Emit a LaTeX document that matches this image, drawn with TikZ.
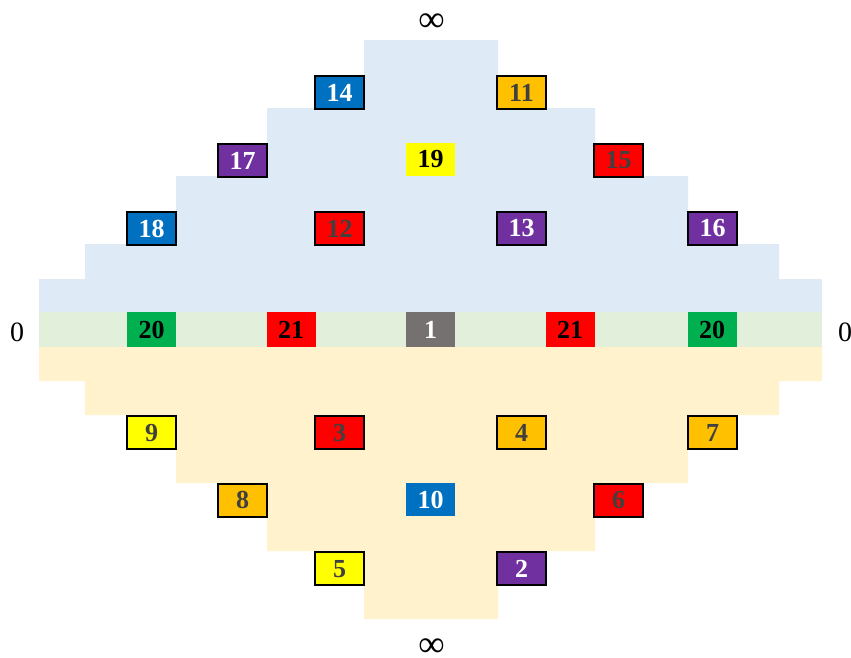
\documentclass[tikz,border=0pt]{standalone}
\usepackage{fontspec}
\setmainfont{Liberation Serif}
\definecolor{regblue}{HTML}{DEEAF6}
\definecolor{reggreen}{HTML}{E2EFDA}
\definecolor{regyellow}{HTML}{FFF2CC}
\definecolor{cblue}{HTML}{0070C0}
\definecolor{cpurple}{HTML}{7030A0}
\definecolor{corange}{HTML}{FFC000}
\definecolor{cred}{HTML}{FF0000}
\definecolor{cyellow}{HTML}{FFFF00}
\definecolor{cgreen}{HTML}{00B050}
\definecolor{cgray}{HTML}{767171}
\definecolor{tdark}{HTML}{404040}
\tikzset{
  numbox/.style={draw=black, line width=2pt, minimum width=49pt, minimum height=33.5pt, inner sep=0pt,
    font=\fontsize{26}{26}\selectfont\bfseries},
  plainbox/.style={minimum width=49pt, minimum height=35pt, inner sep=0pt,
    font=\fontsize{26}{26}\selectfont\bfseries},
  axislbl/.style={inner sep=0pt, font=\fontsize{28}{28}\selectfont},
  inflbl/.style={inner sep=0pt, anchor=base, font=\fontsize{37}{37}\selectfont},
}
\begin{document}
\begin{tikzpicture}[x=1pt,y=-1pt]
\useasboundingbox (0,0) rectangle (851,657);
% regions
\fill[regblue] (364,40) -- (498,40) -- (498,108) -- (595,108) -- (595,176) -- (688,176) -- (688,244) -- (779,244) -- (779,279) -- (822,279) -- (822,312) -- (39,312) -- (39,279) -- (85,279) -- (85,244) -- (176,244) -- (176,176) -- (267,176) -- (267,108) -- (364,108) -- cycle;
\fill[reggreen] (39,312) rectangle (822,347);
\fill[regyellow] (39,347) -- (822,347) -- (822,381) -- (779,381) -- (779,415) -- (688,415) -- (688,483) -- (595,483) -- (595,551) -- (498,551) -- (498,619) -- (364,619) -- (364,551) -- (267,551) -- (267,483) -- (176,483) -- (176,415) -- (85,415) -- (85,381) -- (39,381) -- cycle;
% labels
\node[inflbl] (inftop) at (431.5,31) {∞};
\node[inflbl] (infbot) at (431.5,656.5) {∞};
\node[axislbl] (zl) at (17,332) {0};
\node[axislbl] (zr) at (845,332) {0};
% upper boxes
\node[numbox, fill=cblue, text=white] (b14) at (339.5,92.5) {14};
\node[numbox, fill=corange, text=tdark] (b11) at (521.5,92.5) {11};
\node[numbox, fill=cpurple, text=white] (b17) at (242.5,160.5) {17};
\node[plainbox, fill=cyellow, text=black, minimum height=32.5pt] (b19) at (430.5,159.5) {19};
\node[numbox, fill=cred, text=tdark] (b15) at (618.5,160.5) {15};
\node[numbox, fill=cblue, text=white] (b18) at (151.7,228.5) {18};
\node[numbox, fill=cred, text=tdark] (b12) at (339.5,228.5) {12};
\node[numbox, fill=cpurple, text=white] (b13) at (521.5,228.5) {13};
\node[numbox, fill=cpurple, text=white] (b16) at (712.5,228.5) {16};
% middle row
\node[plainbox, fill=cgreen, text=black] (b20l) at (151.5,329.5) {20};
\node[plainbox, fill=cred, text=black] (b21l) at (291,329.5) {21};
\node[plainbox, fill=cgray, text=white] (b1) at (430.5,329.5) {1};
\node[plainbox, fill=cred, text=black] (b21r) at (570,329.5) {21};
\node[plainbox, fill=cgreen, text=black] (b20r) at (712,329.5) {20};
% lower boxes
\node[numbox, fill=cyellow, text=tdark] (b9) at (151.7,432.7) {9};
\node[numbox, fill=cred, text=tdark] (b3) at (339.5,432.7) {3};
\node[numbox, fill=corange, text=tdark] (b4) at (521.5,432.7) {4};
\node[numbox, fill=corange, text=tdark] (b7) at (712.5,432.7) {7};
\node[numbox, fill=corange, text=tdark] (b8) at (242.6,500.3) {8};
\node[plainbox, fill=cblue, text=white, minimum height=33pt] (b10) at (430.5,499.5) {10};
\node[numbox, fill=cred, text=tdark] (b6) at (618.5,500.3) {6};
\node[numbox, fill=cyellow, text=tdark] (b5) at (339.5,568.7) {5};
\node[numbox, fill=cpurple, text=white] (b2) at (521.5,568.7) {2};
\end{tikzpicture}
\end{document}
